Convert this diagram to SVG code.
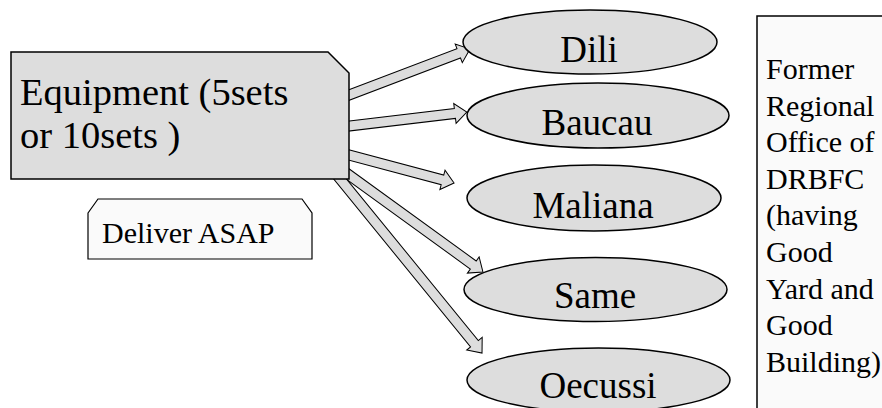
<svg xmlns="http://www.w3.org/2000/svg" width="882" height="408" viewBox="0 0 882 408">
<style>
text{font-family:'Liberation Serif','Times New Roman',serif;fill:#000}
.big{font-size:37px}
.eq{font-size:38.5px}
.mid{font-size:30px}
.node{fill:#dddddd;stroke:#000;stroke-width:1.5}
.arr{fill:#dddddd;stroke:#000;stroke-width:1}
</style>
<rect width="882" height="408" fill="#fff"/>
<g id="connectors">
<path class="arr" transform="translate(330.3,102.1) rotate(-20.8)" d="M0,-5 L137.4,-5 L137.4,-10 L149.4,0 L137.4,10 L137.4,5 L0,5 Z"/>
<path class="arr" transform="translate(329,128.4) rotate(-6.77)" d="M0,-5 L126.8,-5 L126.8,-10 L138.8,0 L126.8,10 L126.8,5 L0,5 Z"/>
<path class="arr" transform="translate(329.7,149.8) rotate(14.93)" d="M0,-5 L116.7,-5 L116.7,-10 L128.7,0 L116.7,10 L116.7,5 L0,5 Z"/>
<path class="arr" transform="translate(328.8,160.3) rotate(35.93)" d="M0,-5 L178.4,-5 L178.4,-10 L190.4,0 L178.4,10 L178.4,5 L0,5 Z"/>
<path class="arr" transform="translate(327.4,163.5) rotate(50.79)" d="M0,-5 L232.6,-5 L232.6,-10 L244.6,0 L232.6,10 L232.6,5 L0,5 Z"/>
</g>
<g id="equipment">
<path class="node" stroke-width="1" d="M11,52 L328,52 L349,73 L349,179 L11,179 Z"/>
<text class="eq" x="20" y="105">Equipment (5sets</text>
<text class="eq" x="20" y="148">or 10sets )</text>
</g>
<g id="deliver">
<path fill="#fafafa" stroke="#000" stroke-width="1.2" d="M88,213 L98,199 L302,199 L312,213 L312,259 L88,259 Z"/>
<text class="mid" x="102" y="243">Deliver ASAP</text>
</g>
<g id="dili">
<ellipse class="node" cx="590" cy="42" rx="127" ry="32"/>
<text class="big" x="589" y="62" text-anchor="middle">Dili</text>
</g>
<g id="baucau">
<ellipse class="node" cx="598" cy="115.5" rx="131" ry="32.5"/>
<text class="big" x="597" y="135" text-anchor="middle">Baucau</text>
</g>
<g id="maliana">
<ellipse class="node" cx="594" cy="198" rx="127" ry="33"/>
<text class="big" x="593" y="218" text-anchor="middle">Maliana</text>
</g>
<g id="same">
<ellipse class="node" cx="595.5" cy="289.5" rx="131.5" ry="32"/>
<text class="big" x="595" y="308" text-anchor="middle">Same</text>
</g>
<g id="oecussi">
<ellipse class="node" cx="598.5" cy="380" rx="131.5" ry="32"/>
<text class="big" x="598" y="398" text-anchor="middle">Oecussi</text>
</g>
<g id="office">
<rect x="757" y="16" width="140" height="410" fill="#fafafa" stroke="#000" stroke-width="1.5"/>
<text class="mid" x="766" y="79">Former</text>
<text class="mid" x="766" y="115.6">Regional</text>
<text class="mid" x="766" y="152.2">Office of</text>
<text class="mid" x="766" y="188.8">DRBFC</text>
<text class="mid" x="766" y="225.4">(having</text>
<text class="mid" x="766" y="262">Good</text>
<text class="mid" x="766" y="298.6">Yard and</text>
<text class="mid" x="766" y="335.2">Good</text>
<text class="mid" x="766" y="371.8">Building)</text>
</g>
</svg>
